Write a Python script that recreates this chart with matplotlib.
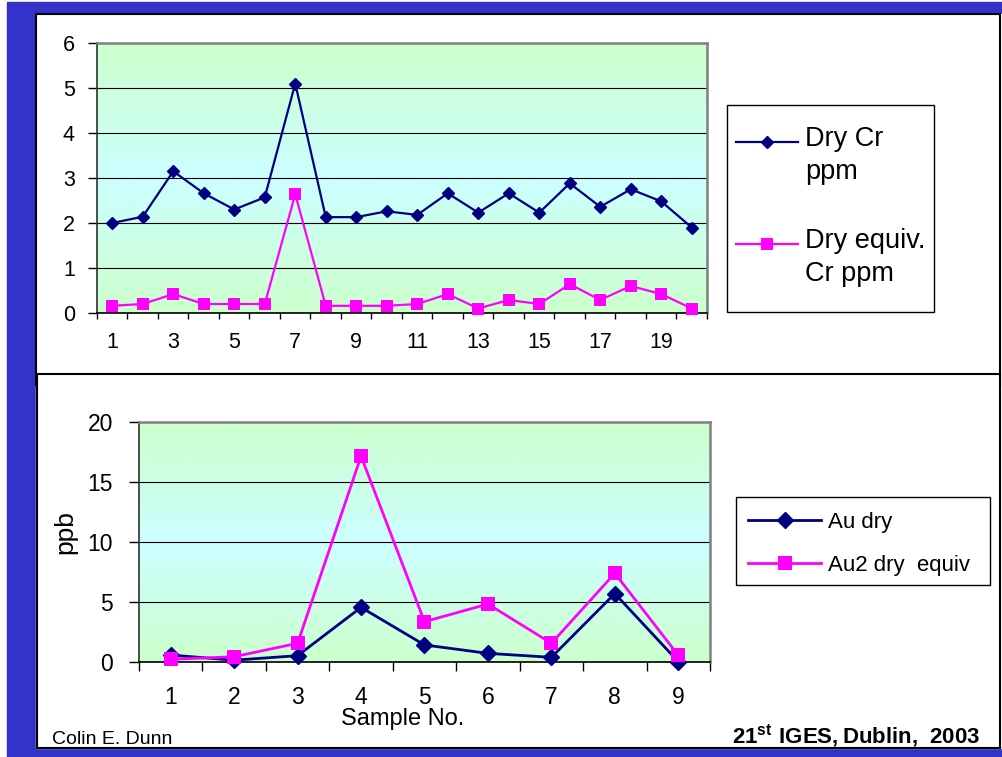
import numpy as np
import matplotlib
matplotlib.use("Agg")
import matplotlib.pyplot as plt
from matplotlib.patches import Rectangle
from matplotlib.colors import LinearSegmentedColormap
from matplotlib.legend_handler import HandlerLine2D

plt.rcParams['font.family'] = ['Liberation Sans', 'DejaVu Sans']
plt.rcParams['mathtext.fontset'] = 'custom'
plt.rcParams['mathtext.rm'] = 'Liberation Sans:bold'
plt.rcParams['mathtext.bf'] = 'Liberation Sans:bold'

# ---- Chromium data (ppm) ----
cr_samples = list(range(1, 21))
cr_dry = [2.00, 2.14, 3.15, 2.66, 2.30, 2.57, 5.10, 2.13, 2.13, 2.26,
          2.18, 2.66, 2.23, 2.66, 2.23, 2.88, 2.36, 2.75, 2.48, 1.90]
cr_equiv = [0.16, 0.20, 0.42, 0.20, 0.20, 0.20, 2.64, 0.16, 0.16, 0.16,
            0.20, 0.42, 0.10, 0.29, 0.20, 0.64, 0.29, 0.60, 0.42, 0.10]
cr_tick_labels = [str(n) if n % 2 else "" for n in cr_samples]
cr_yticks = [0, 1, 2, 3, 4, 5, 6]

# ---- Gold data (ppb) ----
au_samples = list(range(1, 10))
au_dry = [0.58, 0.15, 0.53, 4.55, 1.42, 0.72, 0.39, 5.70, 0.03]
au2_equiv = [0.22, 0.44, 1.56, 17.15, 3.36, 4.83, 1.56, 7.39, 0.56]
au_tick_labels = [str(n) for n in au_samples]
au_yticks = [0, 5, 10, 15, 20]

NAVY = '#000080'
MAGENTA = '#FF00FF'

W, H = 1003, 757
fig = plt.figure(figsize=(W / 100, H / 100), dpi=100)


def frac(x0, y0, x1, y1):
    """Pixel box (top-left origin) -> figure fraction rect."""
    return [x0 / W, 1 - y1 / H, (x1 - x0) / W, (y1 - y0) / H]


class FirstLineHandler(HandlerLine2D):
    """Line handler that sits beside the first line of a two-line label."""

    def __init__(self, shift_pt, **kw):
        super().__init__(**kw)
        self.shift_pt = shift_pt

    def create_artists(self, legend, orig_handle, xdescent, ydescent,
                       width, height, fontsize, trans):
        arts = super().create_artists(legend, orig_handle, xdescent, ydescent,
                                      width, height, fontsize, trans)
        for a in arts:
            a.set_ydata(np.asarray(a.get_ydata(), dtype=float) + self.shift_pt)
        return arts


# slide background and panel frames
bg = fig.add_axes([0, 0, 1, 1], zorder=-10)
bg.set_xlim(0, W)
bg.set_ylim(H, 0)
bg.axis('off')
bg.add_patch(Rectangle((7, 2), W - 7, H - 2, color='#3333CC'))
bg.add_patch(Rectangle((36, 14), W - 36, 734, color='white'))
bg.add_patch(Rectangle((36, 14), 964, 371, fc='white', ec='black', lw=1.5))
bg.add_patch(Rectangle((37, 374), 963, 374, fc='white', ec='black', lw=1.5))
# legend boxes
bg.add_patch(Rectangle((727, 105), 207, 207, fc='white', ec='black', lw=1.0))
bg.add_patch(Rectangle((736, 497), 254, 88, fc='white', ec='black', lw=1.0))

grad_cmap = LinearSegmentedColormap.from_list('plotbg', ['#CCFFCC', '#CCFFFF', '#CCFFCC'])


def style_axes(ax, tick_len_y, tick_len_x, ypad, xpad, labelsize):
    g = np.linspace(0, 1, 256).reshape(-1, 1)
    ax.imshow(g, cmap=grad_cmap, extent=[0, 1, 0, 1], transform=ax.transAxes,
              aspect='auto', zorder=0, interpolation='bicubic')
    ax.set_axisbelow(True)
    ax.yaxis.grid(True, color='black', lw=0.8)
    for s in ('top', 'right'):
        ax.spines[s].set_color('#808080')
        ax.spines[s].set_linewidth(1.8)
    ax.spines['left'].set_color('#303030')
    ax.spines['left'].set_linewidth(1.2)
    ax.spines['bottom'].set_color('black')
    ax.spines['bottom'].set_linewidth(1.2)
    ax.tick_params(axis='y', length=tick_len_y, width=1, pad=ypad, labelsize=labelsize)
    ax.tick_params(axis='x', which='major', length=tick_len_x, width=1)
    ax.tick_params(axis='x', which='minor', length=0, pad=xpad, labelsize=labelsize)


# ---- top chart: chromium ----
ax1 = fig.add_axes(frac(97, 43, 707, 313))
cr_line, = ax1.plot(cr_samples, cr_dry, color=NAVY, lw=1.6, marker='D', ms=6.5,
                    label='Dry Cr\nppm', zorder=3, clip_on=False)
cr_eq_line, = ax1.plot(cr_samples, cr_equiv, color=MAGENTA, lw=1.6, marker='s', ms=8.5,
                       mew=0, label='Dry equiv.\nCr ppm', zorder=3, clip_on=False)
ax1.set_xlim(0.5, len(cr_samples) + 0.5)
ax1.set_ylim(0, 6)
ax1.set_yticks(cr_yticks)
ax1.set_xticks(np.arange(0.5, len(cr_samples) + 1, 1))
ax1.set_xticklabels([])
ax1.set_xticks(cr_samples, minor=True)
ax1.set_xticklabels(cr_tick_labels, minor=True)
style_axes(ax1, 6.5, 4.3, 9.5, 13.5, 15.5)

first_line = FirstLineHandler(10.0)
leg1 = ax1.legend(loc='upper left', bbox_to_anchor=(736 / W, 1 - 126 / H),
                  bbox_transform=fig.transFigure, frameon=False, fontsize=19.5,
                  borderpad=0, borderaxespad=0, handlelength=2.3,
                  handletextpad=0.26, labelspacing=1.6,
                  handler_map={cr_line: first_line, cr_eq_line: first_line})
for t in leg1.get_texts():
    t.set_linespacing(1.35)

# ---- bottom chart: gold ----
ax2 = fig.add_axes(frac(139, 422, 710, 662))
ax2.plot(au_samples, au_dry, color=NAVY, lw=2.0, marker='D', ms=7.8,
         label='Au dry', zorder=3, clip_on=False)
ax2.plot(au_samples, au2_equiv, color=MAGENTA, lw=2.0, marker='s', ms=10.5,
         mew=0, label='Au2 dry  equiv', zorder=4, clip_on=False)
ax2.set_xlim(0.5, len(au_samples) + 0.5)
ax2.set_ylim(0, 20)
ax2.set_yticks(au_yticks)
ax2.set_xticks(np.arange(0.5, len(au_samples) + 1, 1))
ax2.set_xticklabels([])
ax2.set_xticks(au_samples, minor=True)
ax2.set_xticklabels(au_tick_labels, minor=True)
style_axes(ax2, 7.2, 6.5, 11.5, 17, 16.5)
ax2.set_ylabel('ppb', fontsize=19, va='center')
ax2.yaxis.set_label_coords((65.5 - 139) / 571, (662 - 532) / 240)
ax2.set_xlabel('Sample No.', fontsize=17, va='center')
ax2.xaxis.set_label_coords((403 - 139) / 571, (662 - 719) / 240)

leg2 = ax2.legend(loc='upper left', bbox_to_anchor=(748 / W, 1 - 512 / H),
                  bbox_transform=fig.transFigure, frameon=False, fontsize=16,
                  borderpad=0, borderaxespad=0, handlelength=3.3,
                  handletextpad=0.32, labelspacing=0.98)

# footer texts
fig.text(52 / W, 1 - 739 / H, 'Colin E. Dunn', fontsize=14, va='center', ha='left')
fig.text(980 / W, 1 - 736 / H, r'$\mathrm{21^{st}\ IGES,Dublin,\ 2003}$',
         fontsize=16, va='center', ha='right')

fig.savefig('out.png', dpi=100)
